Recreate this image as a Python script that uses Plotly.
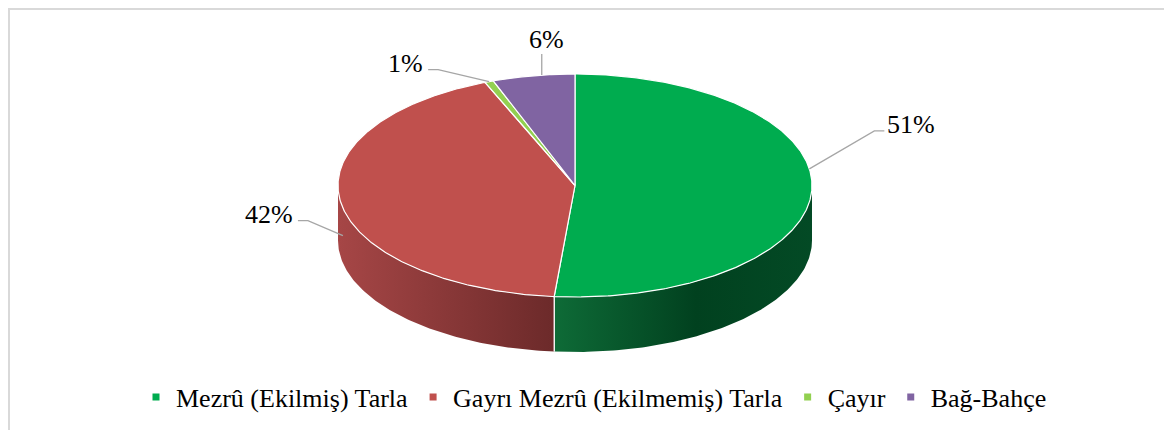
import numpy as np
import plotly.graph_objects as go

# ---- data ----
categories = ["Mezrû (Ekilmiş) Tarla", "Gayrı Mezrû (Ekilmemiş) Tarla", "Çayır", "Bağ-Bahçe"]
values = [51.4, 42.4, 0.6, 5.6]
top_colors = ["#00ac4f", "#c0504d", "#92d050", "#8064a2"]
side_scales = [
    [[0, "#0e6b37"], [0.55, "#01411f"], [1, "#034a25"]],
    [[0, "#a64646"], [1, "#6c2a2a"]],
    [[0, "#6f9e3d"], [1, "#4f7229"]],
    [[0, "#614b7c"], [1, "#463659"]],
]
label_style = [
    dict(frac=0.44, dfrac=0.0, elbow=(65, -38), run=10, side="right"),
    dict(frac=0.48, dfrac=0.5, elbow=(-35, -15), run=-10, side="left"),
    dict(frac=0.5, dfrac=0.0, elbow=(-51, -12), run=-10, side="left"),
    dict(frac=0.6, dfrac=0.0, elbow=(0, -21), run=0, side="top"),
]

# ---- geometry (style) ----
W, H = 1172, 430
OFF = 8
cx, cy, rx, ry, depth = 575, 185.5, 237, 111.5, 55
FS = 26
SERIF = "serif"


def pt(theta_deg, dy=0.0):
    t = np.radians(theta_deg)
    return cx + rx * np.sin(t), cy - ry * np.cos(t) + dy


fig = go.Figure()
total = sum(values)
bounds = np.concatenate([[0], np.cumsum(values) / total * 360])

for i in range(len(values)):
    a, b = bounds[i], bounds[i + 1]
    lo, hi = max(a, 90), min(b, 270)
    if hi <= lo:
        continue
    th = np.linspace(lo, hi, 120)
    xt, yt = pt(th)
    xb, yb = pt(th[::-1], depth)
    xs = np.concatenate([xt, xb, xt[:1]])
    ys = np.concatenate([yt, yb, yt[:1]])
    fig.add_trace(go.Scatter(
        x=xs, y=ys, mode="lines", fill="toself",
        line=dict(color="rgba(255,255,255,0)", width=0),
        fillgradient=dict(type="horizontal", colorscale=side_scales[i]),
        hoverinfo="skip", showlegend=False))
    for edge in (lo, hi):
        if 90 < edge < 270:
            x0, y0 = pt(edge)
            x1, y1 = pt(edge, depth)
            fig.add_trace(go.Scatter(x=[x0, x1], y=[y0, y1], mode="lines",
                                     line=dict(color="white", width=1.2),
                                     hoverinfo="skip", showlegend=False))

for i in range(len(values)):
    a, b = bounds[i], bounds[i + 1]
    th = np.linspace(a, b, max(int((b - a) * 2), 4))
    xe, ye = pt(th)
    xs = np.concatenate([[cx], xe, [cx]])
    ys = np.concatenate([[cy], ye, [cy]])
    fig.add_trace(go.Scatter(
        x=xs, y=ys, mode="lines", fill="toself", fillcolor=top_colors[i],
        line=dict(color="white", width=1.2),
        hoverinfo="skip", showlegend=False))

for i, c in enumerate(categories):
    fig.add_trace(go.Scatter(x=[None], y=[None], mode="markers", name=c,
                             marker=dict(symbol="square", size=7, color=top_colors[i])))

for i in range(len(values)):
    a, b = bounds[i], bounds[i + 1]
    st = label_style[i]
    ang = a + (b - a) * st["frac"]
    ax_, ay_ = pt(ang, depth * st["dfrac"])
    ex, ey = ax_ + st["elbow"][0], ay_ + st["elbow"][1]
    fx = ex + st["run"]
    fig.add_trace(go.Scatter(x=[ax_, ex, fx], y=[ay_, ey, ey], mode="lines",
                             line=dict(color="#a6a6a6", width=1.3),
                             hoverinfo="skip", showlegend=False))
    txt = f"{values[i] / total * 100:.0f}%"
    if st["side"] == "right":
        fig.add_annotation(x=fx + 1, y=ey - 6, text=txt, xanchor="left", yanchor="middle", showarrow=False)
    elif st["side"] == "left":
        fig.add_annotation(x=fx - 3, y=ey - 6, text=txt, xanchor="right", yanchor="middle", showarrow=False)
    else:
        fig.add_annotation(x=fx + 5, y=ey + 2, text=txt, xanchor="center", yanchor="bottom", showarrow=False)

fig.update_layout(
    width=W, height=H,
    margin=dict(l=0, r=0, t=0, b=0),
    paper_bgcolor="white", plot_bgcolor="white",
    font=dict(family=SERIF, size=FS, color="black"),
    xaxis=dict(range=[OFF, W + OFF], visible=False, fixedrange=True),
    yaxis=dict(range=[H + OFF, OFF], visible=False, fixedrange=True),
    showlegend=True,
    legend=dict(orientation="h", x=0.5, xanchor="center", y=1 - (397 - OFF) / H, yanchor="middle",
                font=dict(family=SERIF, size=FS, color="black"), itemclick=False, bgcolor="rgba(0,0,0,0)"),
    shapes=[dict(type="rect", xref="x", yref="y", x0=9, x1=W + 60, y0=9, y1=H + 60,
                 line=dict(color="#d9d9d9", width=2))],
)

fig.write_html("out.html")
